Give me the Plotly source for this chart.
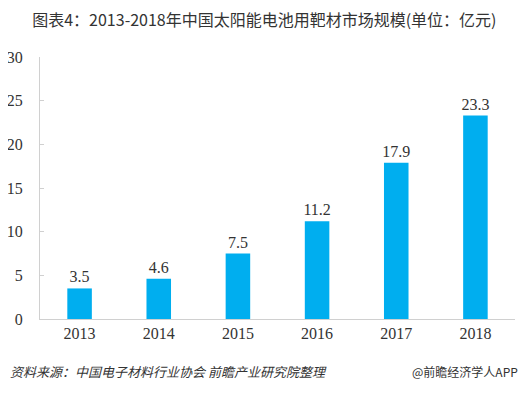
import plotly.graph_objects as go

years = ["2013", "2014", "2015", "2016", "2017", "2018"]
values = [3.5, 4.6, 7.5, 11.2, 17.9, 23.3]
y_ticks = [0, 5, 10, 15, 20, 25, 30]

fig = go.Figure()
fig.add_trace(go.Bar(
    x=years, y=values,
    marker=dict(color="#00AEEF", line=dict(width=0)),
    text=[f"{v:.1f}" for v in values],
    textposition="outside",
    constraintext="none",
    textfont=dict(family="Liberation Serif", size=16, color="#333333"),
    cliponaxis=False,
))

# page body has an 8px margin, so the figure is sized to fill the rest of the window
fig.update_layout(
    width=519, height=385,
    margin=dict(l=32, r=12, t=49, b=74, autoexpand=False),
    paper_bgcolor="white", plot_bgcolor="white",
    bargap=0.69,
    showlegend=False,
    title=dict(
        text="图表4：2013-2018年中国太阳能电池用靶材市场规模(单位：亿元)",
        x=0.494, xanchor="center", y=0.969, yanchor="middle", yref="container",
        font=dict(family="Noto Sans CJK SC", size=16, color="#333333"),
    ),
    xaxis=dict(
        showline=True, linecolor="#D0D0D0", linewidth=1,
        ticks="", showgrid=False,
        tickfont=dict(family="Liberation Serif", size=16, color="#333333"),
    ),
    yaxis=dict(
        range=[0, 30], tickvals=y_ticks,
        showline=True, linecolor="#D0D0D0", linewidth=1,
        ticks="inside", ticklen=4, tickcolor="#D0D0D0",
        showgrid=False, zeroline=False,
        tickfont=dict(family="Liberation Serif", size=16, color="#333333"),
        ticklabelstandoff=13,
    ),
)

fig.add_annotation(
    text="资料来源：中国电子材料行业协会 前瞻产业研究院整理",
    xref="paper", yref="paper", x=-0.0674, y=-0.202, xanchor="left", yanchor="middle",
    showarrow=False,
    font=dict(family="Noto Sans CJK SC", size=13, color="#333333", style="italic"),
)
fig.add_annotation(
    text="@前瞻经济学人APP",
    xref="paper", yref="paper", x=1.0105, y=-0.202, xanchor="right", yanchor="middle",
    showarrow=False,
    font=dict(family="Noto Sans CJK SC", size=12, color="#333333"),
)

fig.write_html("out.html")
